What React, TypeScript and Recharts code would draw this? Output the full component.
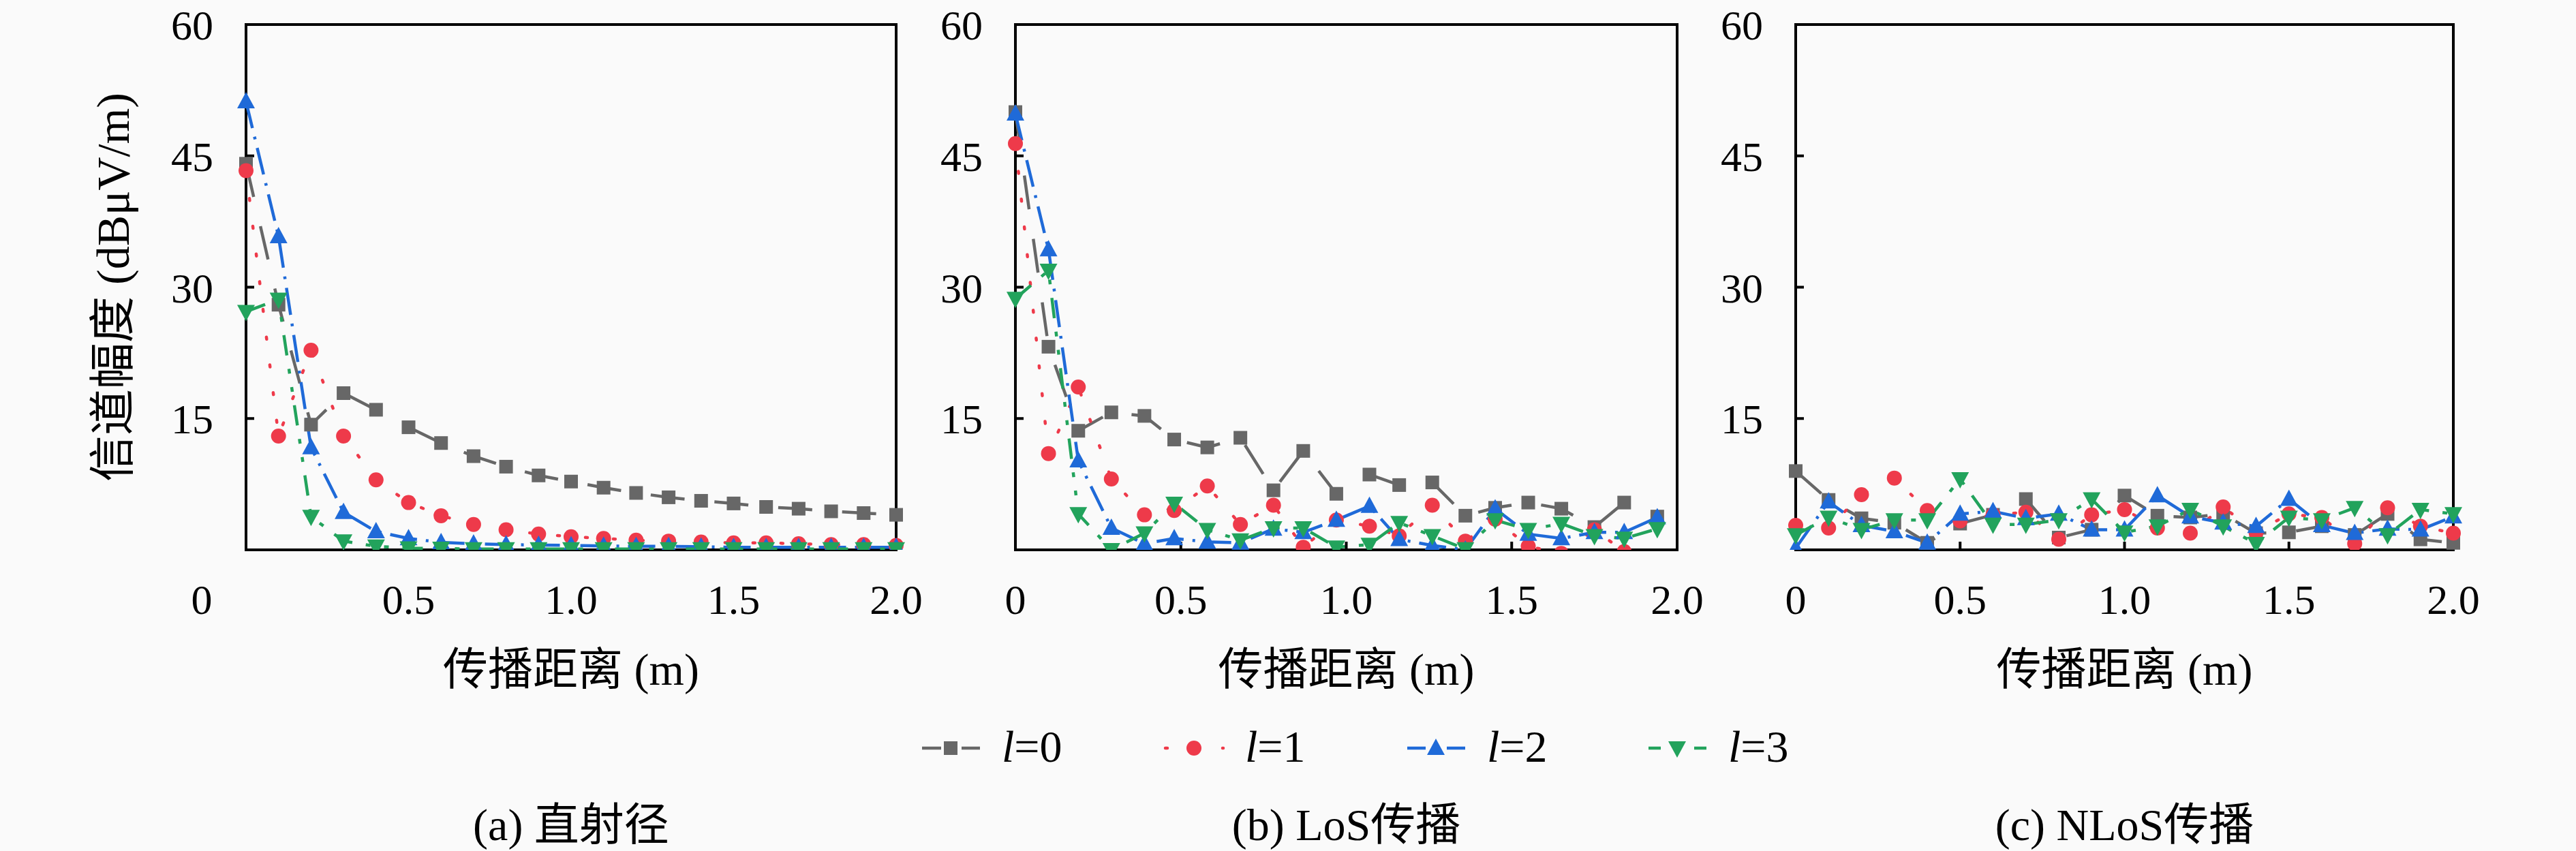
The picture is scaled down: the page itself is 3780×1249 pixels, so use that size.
import React from "react";
import { LineChart, Line, XAxis, YAxis, ReferenceArea } from "recharts";

// x positions (m)
const X_A = [0, 0.1, 0.2, 0.3, 0.4, 0.5, 0.6, 0.7, 0.8, 0.9, 1.0, 1.1, 1.2, 1.3, 1.4, 1.5, 1.6, 1.7, 1.8, 1.9, 2.0];
const X_B = [0, 0.1, 0.19, 0.29, 0.39, 0.48, 0.58, 0.68, 0.78, 0.87, 0.97, 1.07, 1.16, 1.26, 1.36, 1.45, 1.55, 1.65, 1.75, 1.84, 1.94];
const X_C = [0, 0.1, 0.2, 0.3, 0.4, 0.5, 0.6, 0.7, 0.8, 0.9, 1.0, 1.1, 1.2, 1.3, 1.4, 1.5, 1.6, 1.7, 1.8, 1.9, 2.0];

// (a) 直射径
const A_L0 = [44.1, 28.0, 14.3, 17.9, 16.0, 14.0, 12.2, 10.7, 9.5, 8.5, 7.8, 7.1, 6.5, 6.0, 5.6, 5.3, 4.9, 4.7, 4.4, 4.2, 4.0];
const A_L1 = [43.3, 13.0, 22.8, 13.0, 8.0, 5.4, 3.9, 2.9, 2.3, 1.8, 1.5, 1.3, 1.1, 1.0, 0.9, 0.8, 0.8, 0.7, 0.6, 0.6, 0.5];
const A_L2 = [51.2, 35.8, 11.7, 4.3, 2.1, 1.3, 0.85, 0.7, 0.6, 0.55, 0.5, 0.45, 0.4, 0.4, 0.35, 0.3, 0.3, 0.3, 0.3, 0.3, 0.3];
const A_L3 = [27.2, 28.6, 3.8, 1.0, 0.4, 0.2, 0.15, 0.1, 0.1, 0.1, 0.1, 0.1, 0.1, 0.1, 0.1, 0.1, 0.1, 0.1, 0.1, 0.1, 0.1];

// (b) LoS传播
const B_L0 = [50.0, 23.2, 13.6, 15.7, 15.3, 12.6, 11.7, 12.8, 6.8, 11.3, 6.4, 8.6, 7.4, 7.7, 3.9, 4.8, 5.4, 4.7, 2.6, 5.4, 3.8];
const B_L1 = [46.4, 11.0, 18.6, 8.1, 4.0, 4.5, 7.3, 2.9, 5.1, 0.3, 3.4, 2.7, 1.6, 5.1, 1.0, 3.5, 0.4, -0.4, 2.3, -0.2, -0.9];
const B_L2 = [49.8, 34.3, 10.2, 2.5, 0.7, 1.3, 0.9, 0.8, 2.4, 2.0, 3.4, 5.0, 1.2, 0.5, 0.0, 4.7, 1.8, 1.3, 2.0, 2.0, 3.7];
const B_L3 = [28.7, 31.9, 4.1, 0.0, 1.9, 5.3, 2.3, 1.1, 2.5, 2.5, 0.3, 0.6, 3.1, 1.6, 0.1, 3.4, 2.3, 3.0, 1.6, 1.3, 2.4];

// (c) NLoS传播
const C_L0 = [9.0, 5.7, 3.6, 3.1, 0.8, 3.0, 4.0, 5.8, 1.4, 2.3, 6.2, 3.9, 3.7, 4.1, 1.9, 2.0, 2.7, 1.7, 4.1, 1.2, 0.8];
const C_L1 = [2.8, 2.5, 6.3, 8.2, 4.5, 3.3, 4.0, 4.3, 1.2, 4.0, 4.6, 2.5, 1.9, 4.9, 2.0, 4.1, 3.7, 0.7, 4.8, 2.7, 1.9];
const C_L2 = [0.2, 5.5, 2.8, 2.1, 0.8, 4.1, 4.4, 3.6, 4.1, 2.3, 2.3, 6.2, 3.8, 3.1, 2.7, 5.8, 2.8, 1.9, 2.4, 2.3, 3.8];
const C_L3 = [1.7, 3.7, 2.3, 3.4, 3.4, 8.1, 2.9, 2.9, 3.4, 5.8, 2.0, 2.7, 4.6, 2.7, 0.7, 3.7, 3.4, 4.8, 1.7, 4.6, 4.1];

const X_TICKS = [0, 0.5, 1, 1.5, 2];
const X_TICK_LABELS = ["0", "0.5", "1.0", "1.5", "2.0"];
const Y_TICKS = [15, 30, 45, 60];

const SERIES_NAMES = ["l=0", "l=1", "l=2", "l=3"];
const CAPTIONS = ["(a) 直射径", "(b) LoS传播", "(c) NLoS传播"];
const X_TITLE = "传播距离 (m)";
const Y_TITLE = "信道幅度 (dBμV/m)";

const SERIES = [
  { key: "l0", color: "#676767", shape: "square", dash: "50 44", cap: "butt", legendDash: "28 30 27" },
  { key: "l1", color: "#ee3a4a", shape: "circle", dash: "3 38", cap: "round", legendDash: "3 39" },
  { key: "l2", color: "#1f6ad8", shape: "up", dash: "40 13 4 13", cap: "butt", legendDash: "27 31 27" },
  { key: "l3", color: "#22a35c", shape: "down", dash: "30 20 7 20 7 20", cap: "butt", legendDash: "18 49 18" },
];

const PANELS = [
  { x: X_A, s: [A_L0, A_L1, A_L2, A_L3], left: 361, w: 954, zeroDx: -65 },
  { x: X_B, s: [B_L0, B_L1, B_L2, B_L3], left: 1490, w: 971, zeroDx: 0 },
  { x: X_C, s: [C_L0, C_L1, C_L2, C_L3], left: 2635, w: 965, zeroDx: 0 },
];

const PLOT_TOP = 36;
const PLOT_BOTTOM = 807;
const CHART_H = 940;
const RIGHT_PAD = 80;
const SERIF = "'Liberation Serif', 'DejaVu Serif', serif";
const MIXED = "'Liberation Serif', 'Noto Sans CJK SC', serif";

function Marker({ shape, color, cx, cy }: { shape: string; color: string; cx: number; cy: number }) {
  if (shape === "square") return <rect x={cx - 10} y={cy - 10} width={20} height={20} fill={color} />;
  if (shape === "circle") return <circle cx={cx} cy={cy} r={11} fill={color} />;
  if (shape === "up")
    return <polygon points={`${cx},${cy - 14} ${cx + 13},${cy + 10} ${cx - 13},${cy + 10}`} fill={color} />;
  return <polygon points={`${cx},${cy + 14} ${cx + 13},${cy - 10} ${cx - 13},${cy - 10}`} fill={color} />;
}

const makeDot = (shape: string, color: string) => (props: any) => {
  const { cx, cy, index } = props;
  if (cx == null || cy == null) return <g key={`d${index}`} />;
  return (
    <g key={`d${index}`}>
      <Marker shape={shape} color={color} cx={cx} cy={cy} />
    </g>
  );
};

const XTick = ({ x, y, payload, zeroDx }: any) => {
  const i = X_TICKS.indexOf(payload.value);
  const label = i >= 0 ? X_TICK_LABELS[i] : String(payload.value);
  const dx = payload.value === 0 ? zeroDx : 0;
  return (
    <text x={x + dx} y={y} dy="0.71em" textAnchor="middle" fontSize={62} fontFamily={SERIF} fill="#000">
      {label}
    </text>
  );
};

function Panel({ idx }: { idx: number }) {
  const p = PANELS[idx];
  const rows = p.x.map((x, i) => ({ x, l0: p.s[0][i], l1: p.s[1][i], l2: p.s[2][i], l3: p.s[3][i] }));
  const xAxisH = 120;
  const bottom = CHART_H - PLOT_BOTTOM - xAxisH;
  return (
    <div style={{ position: "absolute", left: p.left - 200, top: 0 }}>
      <LineChart
        width={200 + p.w + RIGHT_PAD}
        height={CHART_H}
        data={rows}
        margin={{ top: PLOT_TOP, right: RIGHT_PAD, bottom, left: 50 }}
      >
        <XAxis
          type="number"
          dataKey="x"
          domain={[0, 2]}
          ticks={X_TICKS}
          height={xAxisH}
          axisLine={false}
          tickSize={-12}
          tickMargin={62}
          tickLine={{ stroke: "#000", strokeWidth: 4 }}
          stroke="#000"
          tick={<XTick zeroDx={p.zeroDx} />}
          interval={0}
        />
        <YAxis
          type="number"
          domain={[0, 60]}
          allowDataOverflow
          ticks={Y_TICKS}
          width={150}
          axisLine={false}
          tickSize={-12}
          tickMargin={60}
          tickLine={{ stroke: "#000", strokeWidth: 4 }}
          stroke="#000"
          tick={{ fontSize: 62, fill: "#000", fontFamily: SERIF }}
          interval={0}
        />
        <ReferenceArea x1={0} x2={2} y1={0} y2={60} fill="none" stroke="#000" strokeWidth={4} ifOverflow="visible" />
        {SERIES.map((s) => (
          <Line
            key={s.key}
            type="linear"
            dataKey={s.key}
            stroke={s.color}
            strokeWidth={4.5}
            strokeDasharray={s.dash}
            strokeLinecap={s.cap as any}
            dot={makeDot(s.shape, s.color)}
            activeDot={false}
            isAnimationActive={false}
          />
        ))}
      </LineChart>
    </div>
  );
}

const LEGEND_X = [1353, 1710, 2065, 2419];
const LEGEND_Y = 1098;

export default function App() {
  return (
    <div
      style={{
        position: "absolute",
        left: 0,
        top: 0,
        width: 3780,
        height: 1249,
        background: "#fafafa",
        overflow: "hidden",
      }}
    >
      {PANELS.map((_, i) => (
        <Panel key={i} idx={i} />
      ))}
      <svg width={3780} height={1249} style={{ position: "absolute", left: 0, top: 0, pointerEvents: "none" }}>
        <text
          transform={`translate(166, ${(PLOT_TOP + PLOT_BOTTOM) / 2}) rotate(-90)`}
          textAnchor="middle"
          dominantBaseline="central"
          fontSize={68}
          fontFamily={MIXED}
          fill="#000"
        >
          {Y_TITLE}
        </text>
        {PANELS.map((p, i) => (
          <g key={i}>
            <text
              x={p.left + p.w / 2}
              y={982}
              textAnchor="middle"
              dominantBaseline="central"
              fontSize={66}
              fontFamily={MIXED}
              fill="#000"
            >
              {X_TITLE}
            </text>
            <text
              x={p.left + p.w / 2}
              y={1210}
              textAnchor="middle"
              dominantBaseline="central"
              fontSize={66}
              fontFamily={MIXED}
              fill="#000"
            >
              {CAPTIONS[i]}
            </text>
          </g>
        ))}
        {SERIES.map((s, i) => {
          const x0 = LEGEND_X[i];
          const [ital, ...rest] = SERIES_NAMES[i];
          return (
            <g key={s.key}>
              <line
                x1={x0}
                x2={x0 + 85}
                y1={LEGEND_Y}
                y2={LEGEND_Y}
                stroke={s.color}
                strokeWidth={4.5}
                strokeDasharray={s.legendDash}
                strokeLinecap={s.cap as any}
              />
              <Marker shape={s.shape} color={s.color} cx={x0 + 42} cy={LEGEND_Y} />
              <text x={x0 + 117} y={LEGEND_Y + 20} fontSize={66} fontFamily={SERIF} fill="#000">
                <tspan fontStyle="italic">{ital}</tspan>
                {rest.join("")}
              </text>
            </g>
          );
        })}
      </svg>
    </div>
  );
}
